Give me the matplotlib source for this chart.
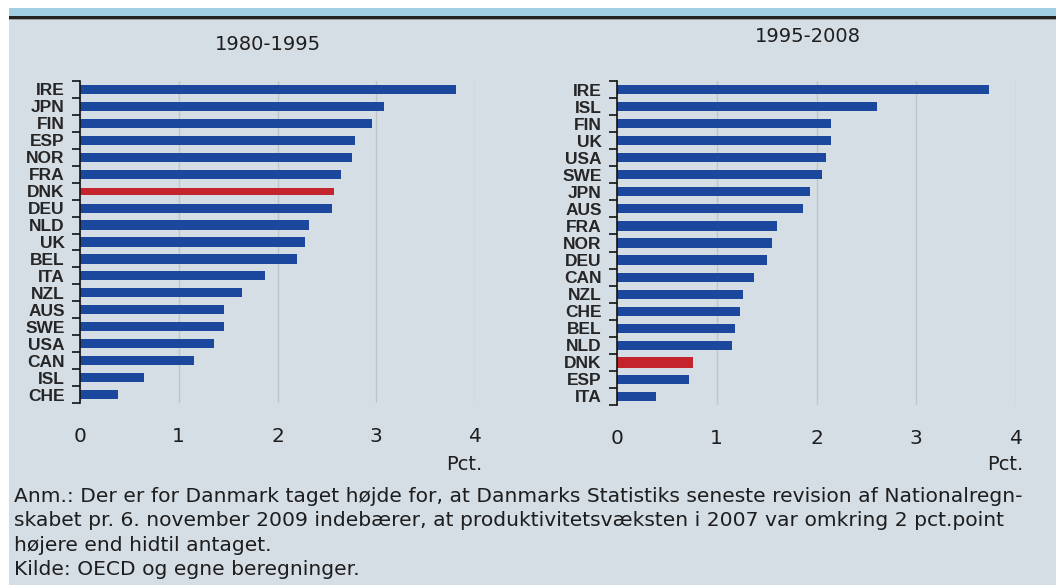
"""Produktivitetsvækst 1980-1995 og 1995-2008, to vandrette søjlediagrammer."""

import matplotlib
matplotlib.use("Agg")
import matplotlib.pyplot as plt
from matplotlib.patches import Rectangle

plt.rcParams["font.family"] = ["DejaVu Sans"]

W, H = 1056, 585

# ── data ─────────────────────────────────────────────
title_left = "1980-1995"
countries_left = ["IRE", "JPN", "FIN", "ESP", "NOR", "FRA", "DNK", "DEU", "NLD", "UK",
                  "BEL", "ITA", "NZL", "AUS", "SWE", "USA", "CAN", "ISL", "CHE"]
values_left = [3.81, 3.08, 2.96, 2.78, 2.75, 2.64, 2.57, 2.55, 2.32, 2.28,
               2.20, 1.87, 1.64, 1.46, 1.46, 1.36, 1.15, 0.65, 0.38]

title_right = "1995-2008"
countries_right = ["IRE", "ISL", "FIN", "UK", "USA", "SWE", "JPN", "AUS", "FRA", "NOR",
                   "DEU", "CAN", "NZL", "CHE", "BEL", "NLD", "DNK", "ESP", "ITA"]
values_right = [3.73, 2.61, 2.15, 2.15, 2.10, 2.06, 1.93, 1.86, 1.60, 1.55,
                1.50, 1.37, 1.26, 1.23, 1.18, 1.15, 0.76, 0.72, 0.39]

x_ticks = [0, 1, 2, 3, 4]
x_label = "Pct."
highlight = "DNK"

note = ("Anm.: Der er for Danmark taget højde for, at Danmarks Statistiks seneste revision af Nationalregn-\n"
        "skabet pr. 6. november 2009 indebærer, at produktivitetsvæksten i 2007 var omkring 2 pct.point\n"
        "højere end hidtil antaget.\n"
        "Kilde: OECD og egne beregninger.")

# ── farver ───────────────────────────────────────────
BG = "#d6dee5"
BLUE = "#1b479c"
RED = "#c4242c"
GRID = "#bfc5cb"
TXT = "#1e1e1e"


def px(x0, y0, x1, y1):
    """pixelboks (top-venstre origo) -> figurkoordinater."""
    return [x0 / W, 1 - y1 / H, (x1 - x0) / W, (y1 - y0) / H]


fig = plt.figure(figsize=(W / 100, H / 100), dpi=100)
fig.patch.set_facecolor(BG)

# top-bånd og venstre hvid kant
fig.patches.append(Rectangle((0, 1 - 8 / H), 1, 8 / H, transform=fig.transFigure,
                             facecolor="white", edgecolor="none", zorder=0))
fig.patches.append(Rectangle((0, 1 - 16 / H), 1, 8 / H, transform=fig.transFigure,
                             facecolor="#a2cee2", edgecolor="none", zorder=0))
fig.patches.append(Rectangle((0, 1 - 19 / H), 1, 3 / H, transform=fig.transFigure,
                             facecolor="#222222", edgecolor="none", zorder=0))
fig.patches.append(Rectangle((0, 1 - 20 / H), 1, 1 / H, transform=fig.transFigure,
                             facecolor="#9aa0a6", edgecolor="none", zorder=0))
fig.patches.append(Rectangle((0, 0), 9 / W, 1, transform=fig.transFigure,
                             facecolor="white", edgecolor="none", zorder=0))


def panel(box, countries, values, dnk_h):
    ax = fig.add_axes(box)
    ax.set_facecolor("none")
    n = len(countries)
    ypos = list(range(n))
    colors = [RED if c == highlight else BLUE for c in countries]
    heights = [dnk_h if c == highlight else 0.54 for c in countries]
    ax.barh(ypos, values, height=heights, color=colors, zorder=3)

    ax.set_xlim(0, 4)
    ax.set_ylim(n - 0.5, -0.5)
    for s in ["top", "right", "bottom"]:
        ax.spines[s].set_visible(False)
    ax.spines["left"].set_color("#111111")
    ax.spines["left"].set_linewidth(1.2)
    ax.spines["left"].set_zorder(4)

    ax.set_xticks(x_ticks)
    ax.tick_params(axis="x", length=0, pad=17, labelsize=14.5, labelcolor=TXT)
    ax.xaxis.grid(True, color=GRID, linewidth=1.0, zorder=1)

    # streger på kategorigrænser, etiketter i midten
    ax.set_yticks([i - 0.5 for i in range(n + 1)])
    ax.set_yticklabels([])
    ax.tick_params(axis="y", which="major", length=6, width=1.2, color="#111111")
    ax.set_yticks(ypos, minor=True)
    ax.set_yticklabels(countries, minor=True, fontfamily="Liberation Sans",
                       fontweight="bold", fontsize=12.5, color="#262626")
    ax.tick_params(axis="y", which="minor", length=0, pad=11)
    return ax


ax1 = panel(px(80, 81, 475, 403), countries_left, values_left, 0.40)
ax2 = panel(px(617, 81, 1016, 405), countries_right, values_right, 0.66)

fig.text(268 / W, 1 - 44 / H, title_left, ha="center", va="center", fontsize=14, color=TXT)
fig.text(808 / W, 1 - 36 / H, title_right, ha="center", va="center", fontsize=14, color=TXT)
fig.text(482 / W, 1 - 464 / H, x_label, ha="right", va="center", fontsize=14, color=TXT)
fig.text(1023 / W, 1 - 464 / H, x_label, ha="right", va="center", fontsize=14, color=TXT)

fig.text(14 / W, 1 - 487 / H, note, ha="left", va="top", fontsize=14.6,
         color=TXT, linespacing=1.36)

fig.savefig("out.png", dpi=100, facecolor=fig.get_facecolor())
